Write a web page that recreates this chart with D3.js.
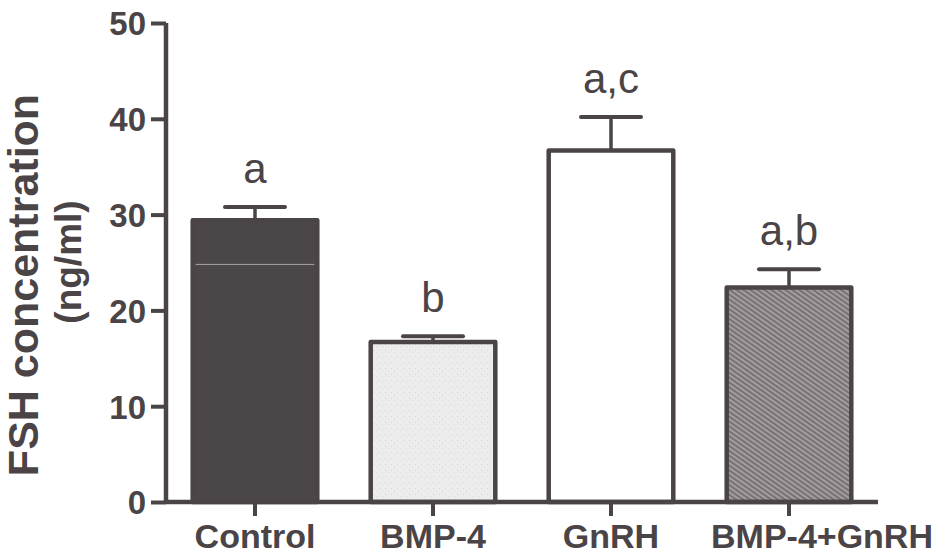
<!DOCTYPE html>
<html>
<head>
<meta charset="utf-8">
<script src="https://cdn.jsdelivr.net/npm/d3@7/dist/d3.min.js"></script>
<style>
  html, body { margin: 0; padding: 0; background: #ffffff; }
  svg { display: block; }
  text { font-family: "Liberation Sans", Arial, Helvetica, sans-serif; fill: #4a4446; }
</style>
</head>
<body>
<svg id="chart" width="936" height="557"></svg>
<script>
// Treatment groups and FSH levels (ng/ml), mean and SEM
const groups = ["Control", "BMP-4", "GnRH", "BMP-4+GnRH"];
const means = [29.4, 16.7, 36.7, 22.4];
const errors = [1.4, 0.6, 3.5, 1.9];
const letters = ["a", "b", "a,c", "a,b"];
const yTicks = [0, 10, 20, 30, 40, 50];
const fills = ["#4b4648", "url(#speckle)", "#ffffff", "url(#hatch)"];

const ink = "#4a4446";
const svg = d3.select("#chart");

// Fill patterns
const defs = svg.append("defs");
const speckle = defs.append("pattern")
  .attr("id", "speckle").attr("patternUnits", "userSpaceOnUse")
  .attr("width", 6).attr("height", 6);
speckle.append("rect").attr("width", 6).attr("height", 6).attr("fill", "#ececec");
speckle.append("rect").attr("x", 1).attr("y", 2).attr("width", 1).attr("height", 1).attr("fill", "#d6d6d6");
speckle.append("rect").attr("x", 4).attr("y", 4).attr("width", 1).attr("height", 1).attr("fill", "#dcdcdc");

const hatch = defs.append("pattern")
  .attr("id", "hatch").attr("patternUnits", "userSpaceOnUse")
  .attr("width", 4).attr("height", 4)
  .attr("patternTransform", "rotate(-55)");
hatch.append("rect").attr("width", 4).attr("height", 4).attr("fill", "#a29d9f");
hatch.append("rect").attr("width", 2).attr("height", 4).attr("fill", "#787274");

// Scales
const x = d3.scaleBand().domain(groups).range([166, 878])
  .paddingInner(0.3).paddingOuter(0.15);
const y = d3.scaleLinear().domain([0, 50]).range([502, 23]);

// Bars
const bars = svg.append("g");
groups.forEach((g, i) => {
  const x0 = x(g), w = x.bandwidth();
  const top = y(means[i]);
  // error bar (upper only)
  const cx = x0 + w / 2;
  const capY = y(means[i] + errors[i]);
  bars.append("line")
    .attr("x1", cx).attr("x2", cx).attr("y1", top).attr("y2", capY)
    .attr("stroke", ink).attr("stroke-width", 3.5);
  bars.append("line")
    .attr("x1", cx - 30).attr("x2", cx + 30).attr("y1", capY).attr("y2", capY)
    .attr("stroke", ink).attr("stroke-width", 4).attr("stroke-linecap", "round");
  bars.append("rect")
    .attr("x", x0).attr("y", top)
    .attr("width", w).attr("height", y(0) - top)
    .attr("fill", fills[i])
    .attr("stroke", ink).attr("stroke-width", 4.5)
    .attr("stroke-linejoin", "round");
  // significance letters
  svg.append("text")
    .attr("x", cx).attr("y", capY - 24)
    .attr("text-anchor", "middle")
    .attr("font-size", 42)
    .text(letters[i]);
});

// Faint scan line across the Control bar
svg.append("line")
  .attr("x1", x("Control") + 3).attr("x2", x("Control") + x.bandwidth() - 3)
  .attr("y1", y(24.8)).attr("y2", y(24.8))
  .attr("stroke", "#a8a4a6").attr("stroke-width", 1);

// Axes
const yAxis = svg.append("g")
  .attr("transform", "translate(166,0)")
  .call(d3.axisLeft(y).tickValues(yTicks).tickSize(15).tickPadding(5));
const xAxis = svg.append("g")
  .attr("transform", "translate(0,502)")
  .call(d3.axisBottom(x).tickSize(14).tickPadding(8));

[yAxis, xAxis].forEach(a => {
  a.select(".domain").attr("stroke", ink).attr("stroke-width", 4.5);
  a.selectAll(".tick line").attr("stroke", ink).attr("stroke-width", 4);
  a.selectAll("text").attr("fill", ink).attr("font-weight", "bold")
    .attr("font-family", "'Liberation Sans', Arial, sans-serif");
});
yAxis.select(".domain").attr("d", "M0,23V502");
xAxis.select(".domain").attr("d", "M166,0H878");
yAxis.selectAll("text").attr("font-size", 33).attr("dy", "0.36em");
xAxis.selectAll("text").attr("font-size", 34).attr("dy", "0.71em");
xAxis.selectAll(".tick").filter(d => d === "BMP-4+GnRH")
  .select("text").attr("dx", 33);

// Y axis title
svg.append("text")
  .attr("transform", "translate(38,285) rotate(-90)")
  .attr("text-anchor", "middle")
  .attr("font-size", 43).attr("font-weight", "bold")
  .text("FSH concentration");
svg.append("text")
  .attr("transform", "translate(81,262) rotate(-90)")
  .attr("text-anchor", "middle")
  .attr("font-size", 37).attr("font-weight", "bold")
  .text("(ng/ml)");
</script>
</body>
</html>
